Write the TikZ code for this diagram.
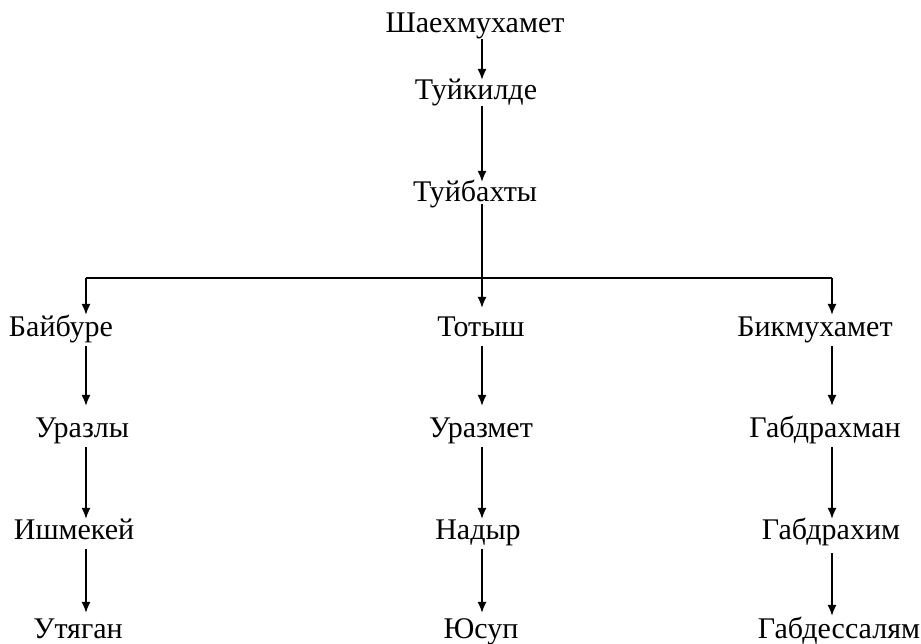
\documentclass[tikz,border=0pt]{standalone}
\usepackage{fontspec}
\setmainfont{Liberation Serif}
\usetikzlibrary{positioning,arrows.meta}

\begin{document}
\begin{tikzpicture}[x=1pt, y=1pt, node distance=101pt, >={Latex[length=11pt,width=9pt]}, person/.style={inner sep=1pt, text height=19pt, text depth=5pt, font=\fontsize{30}{34}\selectfont}, conn/.style={line width=1.3pt}]
  {
  \useasboundingbox (0,0) rectangle (921,643);
  \coordinate (lcol) at (86,0);
  \coordinate (mcol) at (482,0);
  \coordinate (rcol) at (832,0);
  \coordinate (fork) at (482,365);

  \node[person] (shae) at (475,617) {Шаехмухамет};
  \node[person, below of=shae, node distance=67pt, xshift=1pt] (tuik) {Туйкилде};
  \node[person, below of=tuik, node distance=102pt, xshift=-1pt] (tuib) {Туйбахты};
  \node[person, below of=tuib, node distance=135pt, xshift=6pt] (totysh) {Тотыш};
  \node[person, left of=totysh, node distance=420pt] (baib) {Байбуре};
  \node[person, right of=totysh, node distance=334pt] (bikm) {Бикмухамет};

  \node[person, below of=baib, xshift=21pt] (urazly) {Уразлы};
  \node[person, below of=urazly, xshift=-8pt] (ishm) {Ишмекей};
  \node[person, below of=ishm, node distance=99pt, xshift=4pt] (utyag) {Утяган};

  \node[person, below of=totysh] (urazm) {Уразмет};
  \node[person, below of=urazm, xshift=-3pt] (nadyr) {Надыр};
  \node[person, below of=nadyr, node distance=99pt, xshift=3pt] (yusup) {Юсуп};

  \node[person, below of=bikm, xshift=10pt] (gabdrm) {Габдрахман};
  \node[person, below of=gabdrm, xshift=6pt] (gabdrh) {Габдрахим};
  \node[person, below of=gabdrh, node distance=99pt, xshift=8pt] (gabds) {Габдессалям};

  \draw[conn, ->] (shae.south -| mcol) -- (tuik.north -| mcol);
  \draw[conn, ->] (tuik.south -| mcol) -- (tuib.north -| mcol);
  \draw[conn, ->, shorten <=-4pt, shorten >=9pt] (tuib.south -| mcol) -- (totysh.north -| mcol);
  \draw[conn, line width=1.7pt] (lcol |- fork) -- (rcol |- fork);
  \draw[conn, ->, shorten >=2pt] (lcol |- fork) -- (baib.north -| lcol);
  \draw[conn, ->, shorten >=2pt] (rcol |- fork) -- (bikm.north -| rcol);

  \draw[conn, ->, shorten <=3pt, shorten >=12pt] (baib.south -| lcol) -- (urazly.north -| lcol);
  \draw[conn, ->, shorten <=3pt] (urazly.south -| lcol) -- (ishm.north -| lcol);
  \draw[conn, ->, shorten <=4pt, shorten >=5pt] (ishm.south -| lcol) -- (utyag.north -| lcol);

  \draw[conn, ->, shorten <=3pt, shorten >=12pt] (totysh.south -| mcol) -- (urazm.north -| mcol);
  \draw[conn, ->, shorten <=3pt] (urazm.south -| mcol) -- (nadyr.north -| mcol);
  \draw[conn, ->, shorten <=4pt, shorten >=5pt] (nadyr.south -| mcol) -- (yusup.north -| mcol);

  \draw[conn, ->, shorten <=3pt, shorten >=12pt] (bikm.south -| rcol) -- (gabdrm.north -| rcol);
  \draw[conn, ->, shorten <=3pt] (gabdrm.south -| rcol) -- (gabdrh.north -| rcol);
  \draw[conn, ->, shorten <=8pt, shorten >=2pt] (gabdrh.south -| rcol) -- (gabds.north -| rcol);
}
\end{tikzpicture}
\end{document}
